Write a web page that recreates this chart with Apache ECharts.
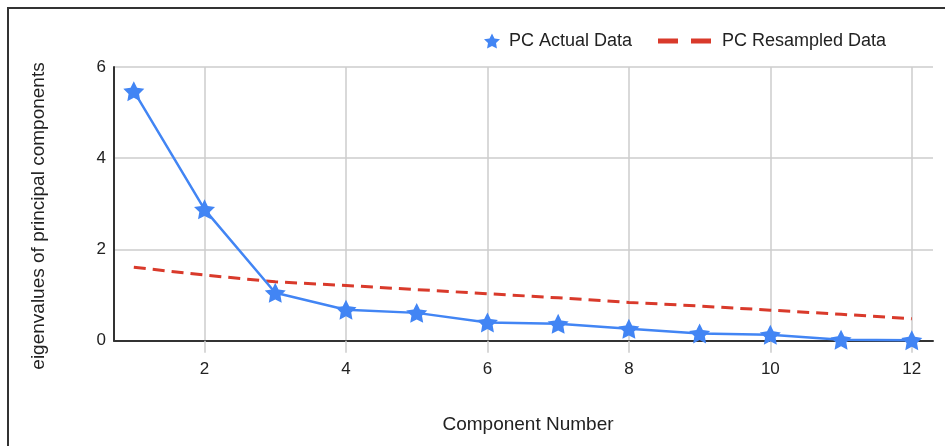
<!DOCTYPE html>
<html>
<head>
<meta charset="utf-8">
<script src="https://cdn.jsdelivr.net/npm/echarts@6/dist/echarts.min.js"></script>
<style>
html,body{margin:0;padding:0;background:#fff;}
#chart{width:945px;height:446px;}
</style>
</head>
<body>
<div id="chart"></div>
<script>
const components = [1, 2, 3, 4, 5, 6, 7, 8, 9, 10, 11, 12];
const actualData = [5.47, 2.88, 1.05, 0.68, 0.61, 0.40, 0.37, 0.26, 0.16, 0.13, 0.02, 0.01];
const resampledData = [1.61, 1.44, 1.29, 1.21, 1.12, 1.03, 0.94, 0.84, 0.76, 0.67, 0.58, 0.48];
const xTickLabels = [2, 4, 6, 8, 10, 12];
const yTickLabels = [0, 2, 4, 6];

const STAR = 'path://M50,0 L64.69,29.77 L97.55,34.55 L73.78,57.73 L79.39,90.45 L50,75 L20.61,90.45 L26.22,57.73 L2.45,34.55 L35.31,29.77 Z';
const DASHES = 'path://M0,0 L20,0 L20,5 L0,5 Z M33,0 L53,0 L53,5 L33,5 Z';
const FONT = '"Liberation Sans", Arial, sans-serif';
const BLUE = '#4285F4';
const RED = '#D93A2B';

const chart = echarts.init(document.getElementById('chart'), null, {renderer: 'canvas'});
chart.setOption({
  animation: false,
  backgroundColor: '#fff',
  textStyle: {fontFamily: FONT},
  grid: {left: 114, top: 67, right: 12, bottom: 105.3, containLabel: false},
  legend: [
    {
      data: [{name: 'PC Actual Data', icon: STAR, itemStyle: {color: BLUE}}],
      left: 479, top: 27, itemWidth: 16, itemHeight: 16,
      textStyle: {fontFamily: FONT, fontSize: 18, color: '#222', padding: [0, 0, 0, 4]},
      selectedMode: false
    },
    {
      data: [{name: 'PC Resampled Data', icon: DASHES, itemStyle: {color: RED}}],
      left: 653, top: 27, itemWidth: 53, itemHeight: 5,
      textStyle: {fontFamily: FONT, fontSize: 18, color: '#222', padding: [0, 0, 0, 6]},
      selectedMode: false
    }
  ],
  xAxis: {
    type: 'value',
    min: 0.72,
    max: 12.3,
    name: 'Component Number',
    nameLocation: 'middle',
    nameGap: 75,
    nameTextStyle: {fontFamily: FONT, fontSize: 19, color: '#222', padding: [0, 0, 0, 9]},
    axisLine: {show: true, onZero: false, lineStyle: {color: '#333', width: 2}},
    axisTick: {show: true, customValues: xTickLabels, length: 12, lineStyle: {color: '#ccc', width: 1.5}},
    axisLabel: {show: true, customValues: xTickLabels, margin: 20, fontFamily: FONT, fontSize: 17, color: '#222'},
    splitLine: {show: true, lineStyle: {color: '#ccc', width: 1.5}}
  },
  yAxis: {
    type: 'value',
    min: 0,
    max: 6,
    interval: 2,
    axisLine: {show: true, lineStyle: {color: '#333', width: 2}},
    axisTick: {show: false},
    axisLabel: {margin: 8, fontFamily: FONT, fontSize: 17, color: '#222'},
    splitLine: {show: true, lineStyle: {color: '#ccc', width: 1.5}}
  },
  graphic: [
    {
      type: 'rect', silent: true, z: 100,
      shape: {x: 8, y: 8, width: 1200, height: 1200},
      style: {fill: 'none', stroke: '#333', lineWidth: 2}
    },
    {
      type: 'text', silent: true,
      x: 39, y: 216, rotation: Math.PI / 2,
      style: {text: 'eigenvalues of principal components', font: '19px ' + FONT, fill: '#222', textAlign: 'center', textVerticalAlign: 'middle'}
    }
  ],
  series: [
    {
      name: 'PC Resampled Data',
      type: 'line',
      data: components.map((c, i) => [c, resampledData[i]]),
      showSymbol: false,
      symbol: 'none',
      lineStyle: {color: RED, width: 3, type: [12, 7]},
      itemStyle: {color: RED},
      z: 2
    },
    {
      name: 'PC Actual Data',
      type: 'line',
      data: components.map((c, i) => [c, actualData[i]]),
      symbol: STAR,
      symbolSize: 21,
      symbolKeepAspect: true,
      showAllSymbol: true,
      lineStyle: {color: BLUE, width: 2.5},
      itemStyle: {color: BLUE},
      z: 3
    }
  ]
});
</script>
</body>
</html>
